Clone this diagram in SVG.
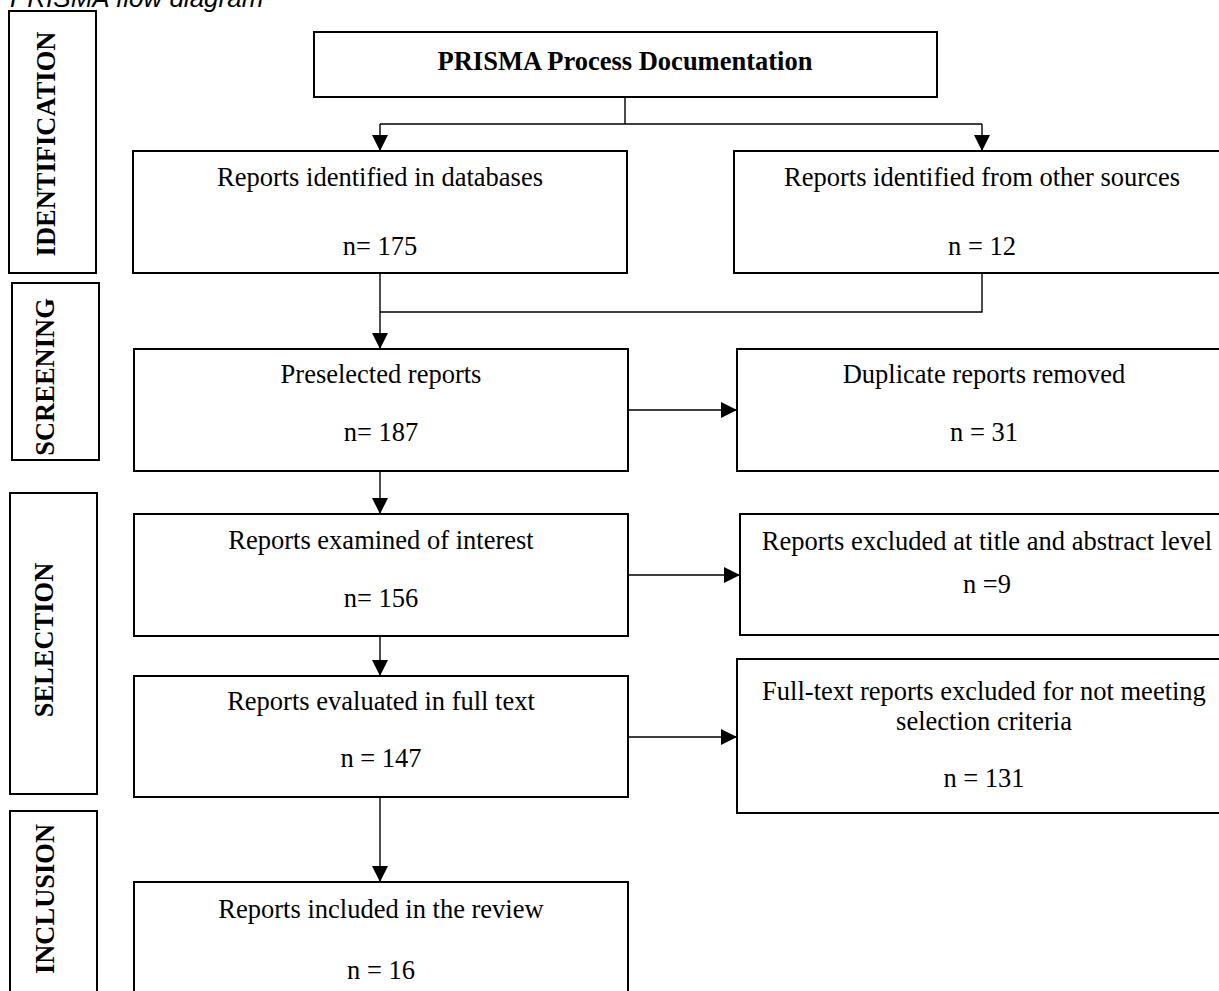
<svg xmlns="http://www.w3.org/2000/svg" width="1219" height="991" viewBox="0 0 1219 991">
<style>
.box{fill:#fff;stroke:#000;stroke-width:2}
.t{font-family:"Liberation Serif","Times New Roman",serif;font-size:26.5px;fill:#000;text-anchor:middle}
.b{font-weight:bold}
.ph{font-family:"Liberation Serif","Times New Roman",serif;font-size:26.5px;font-weight:bold;fill:#000;text-anchor:middle}
.c{fill:none;stroke:#000;stroke-width:1.4}
</style>
<defs>
<marker id="ah" markerUnits="userSpaceOnUse" markerWidth="16" markerHeight="16" viewBox="0 0 16 16" refX="16" refY="8" orient="auto">
<path d="M0,0 L16,8 L0,16 Z" fill="#000"/>
</marker>
</defs>
<rect width="1219" height="991" fill="#fff"/>
<text x="10" y="7" style="font-family:'Liberation Sans',Arial,sans-serif;font-size:26px;font-style:italic" fill="#000">PRISMA flow diagram</text>

<g id="phase-identification"><rect class="box" x="9" y="11" width="87" height="262"/><text class="ph" transform="translate(55,144) rotate(-90)">IDENTIFICATION</text></g>
<g id="phase-screening"><rect class="box" x="12" y="283" width="87" height="177"/><text class="ph" transform="translate(54,377) rotate(-90)">SCREENING</text></g>
<g id="phase-selection"><rect class="box" x="10" y="493" width="87" height="301"/><text class="ph" transform="translate(53,640) rotate(-90)">SELECTION</text></g>
<g id="phase-inclusion"><rect class="box" x="10" y="811" width="87" height="190"/><text class="ph" transform="translate(54,899) rotate(-90)">INCLUSION</text></g>

<g id="connectors">
<path class="c" d="M625,97 V124 M380,124 H982"/>
<path class="c" d="M380,124 V151" marker-end="url(#ah)"/>
<path class="c" d="M982,124 V151" marker-end="url(#ah)"/>
<path class="c" d="M380,273 V312 M982,273 V312 H380"/>
<path class="c" d="M380,312 V349" marker-end="url(#ah)"/>
<path class="c" d="M628,410 H737" marker-end="url(#ah)"/>
<path class="c" d="M380,471 V514" marker-end="url(#ah)"/>
<path class="c" d="M628,575 H740" marker-end="url(#ah)"/>
<path class="c" d="M380,636 V676" marker-end="url(#ah)"/>
<path class="c" d="M628,737 H737" marker-end="url(#ah)"/>
<path class="c" d="M380,797 V882" marker-end="url(#ah)"/>
</g>

<g id="node-prisma"><rect class="box" x="314" y="32" width="623" height="65"/><text class="t b" x="625" y="70">PRISMA Process Documentation</text></g>
<g id="node-databases"><rect class="box" x="133" y="151" width="494" height="122"/><text class="t" x="380" y="186">Reports identified in databases</text><text class="t" x="380" y="255">n= 175</text></g>
<g id="node-other"><rect class="box" x="734" y="151" width="496" height="122"/><text class="t" x="982" y="186">Reports identified from other sources</text><text class="t" x="982" y="255">n = 12</text></g>
<g id="node-preselected"><rect class="box" x="134" y="349" width="494" height="122"/><text class="t" x="381" y="383">Preselected reports</text><text class="t" x="381" y="441">n= 187</text></g>
<g id="node-duplicates"><rect class="box" x="737" y="349" width="494" height="122"/><text class="t" x="984" y="383">Duplicate reports removed</text><text class="t" x="984" y="441">n = 31</text></g>
<g id="node-examined"><rect class="box" x="134" y="514" width="494" height="122"/><text class="t" x="381" y="549">Reports examined of interest</text><text class="t" x="381" y="607">n= 156</text></g>
<g id="node-excluded-title"><rect class="box" x="740" y="514" width="494" height="121"/><text class="t" x="987" y="550">Reports excluded at title and abstract level</text><text class="t" x="987" y="593">n =9</text></g>
<g id="node-fulltext"><rect class="box" x="134" y="676" width="494" height="121"/><text class="t" x="381" y="710">Reports evaluated in full text</text><text class="t" x="381" y="767">n = 147</text></g>
<g id="node-excluded-fulltext"><rect class="box" x="737" y="659" width="494" height="154"/><text class="t" x="984" y="700">Full-text reports excluded for not meeting</text><text class="t" x="984" y="730">selection criteria</text><text class="t" x="984" y="787">n = 131</text></g>
<g id="node-included"><rect class="box" x="134" y="882" width="494" height="120"/><text class="t" x="381" y="918">Reports included in the review</text><text class="t" x="381" y="979">n = 16</text></g>
</svg>
